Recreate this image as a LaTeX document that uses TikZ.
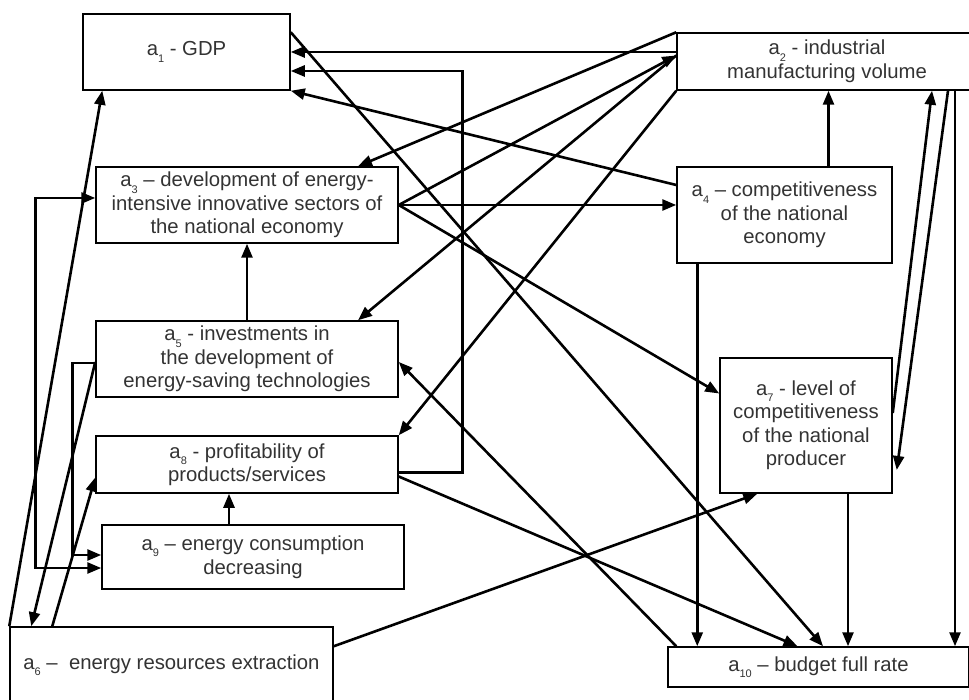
\documentclass[tikz,border=0pt]{standalone}
\usepackage{fontspec}
\setmainfont{Liberation Sans}
\usetikzlibrary{arrows.meta,calc}
\newcommand{\ai}[1]{a\raisebox{-0.6ex}{\fontsize{11}{11}\selectfont #1}}

\begin{document}
\begin{tikzpicture}[x=1pt, y=-1pt,
  every node/.style={draw, rectangle, line width=1.5pt, align=center, inner sep=2pt,
    font=\fontsize{20.3}{23.5}\selectfont, text=black!80},
  arr/.style={line width=2.6pt, -{Triangle[length=14pt,width=11pt]}},
  biarr/.style={line width=2.6pt, {Triangle[length=14pt,width=11pt]}-{Triangle[length=14pt,width=11pt]}}]
  \clip (0,0) rectangle (969,700);
  % factors
  \node[minimum width=207, minimum height=76] (a1) at (186.5,52) {\ai{1} - GDP};
  \node[minimum width=300, minimum height=57] (a2) at (827,61.5) {\ai{2} - industrial\\manufacturing volume};
  \node[minimum width=302, minimum height=76] (a3) at (247,205) {\ai{3} -- development of energy-\\intensive innovative sectors of\\the national economy};
  \node[minimum width=215, minimum height=96] (a4) at (784.5,215) {\ai{4} -- competitiveness\\of the national\\economy};
  \node[minimum width=302, minimum height=76] (a5) at (247,359) {\ai{5} - investments in\\the development of\\energy-saving technologies};
  \node[minimum width=323, minimum height=76] (a6) at (171.5,665) {\ai{6} --\ \ energy resources extraction};
  \node[minimum width=172, minimum height=135] (a7) at (806,425.5) {\ai{7} - level of\\competitiveness\\of the national\\producer};
  \node[minimum width=302, minimum height=57] (a8) at (247,464.5) {\ai{8} - profitability of\\products/services};
  \node[minimum width=302, minimum height=64] (a9) at (253,557) {\ai{9} -- energy consumption\\decreasing};
  \node[minimum width=301, minimum height=40] (a10) at (818.5,667) {\ai{10} -- budget full rate};
  % links into a1
  \draw[arr] (a1.east -| a2.west) -- (a1.east);
  \draw[arr] ($(a8.east)+(0,8)$) -- ++(64,0) |- ($(a1.east)+(0,19)$);
  \draw[arr] ($(a4.west)+(0,-30)$) -- (a1.south east);
  \draw[arr] (a6.north west) -- ($(a1.south west)+(20,0)$);
  % links from a1, a2, a3
  \draw[arr] ($(a1.north east)+(0,19)$) -- ($(a10.north)+(4.5,0)$);
  \draw[arr] (a2.north west) -- ($(a3.north)+(111,0)$);
  \draw[arr] (a3.east) -- ($(a2.west)+(0,-6)$);
  \draw[arr] ($(a2.west)+(0,-6)$) -- ($(a5.north)+(111,0)$);
  \draw[arr] (a2.south west) -- (a8.north east);
  \draw[arr] (a3.east) -- (a3.east -| a4.west);
  \draw[arr] (a3.east) -- ($(a7.west)+(0,-32)$);
  % right side
  \draw[arr] ($(a4.north)+(44,0)$) coordinate (t1) -- (t1 |- a2.south);
  \draw[arr] ($(a4.south west)+(21,0)$) coordinate (t2) -- (t2 |- a10.north);
  \draw[arr] ($(a7.south)+(42,0)$) coordinate (t3) -- (t3 |- a10.north);
  \draw[arr] ($(a2.south)+(128,0)$) coordinate (t4) -- (t4 |- a10.north);
  \draw[arr] ($(a7.east)+(0,-12.5)$) -- ($(a2.south)+(105,0)$);
  \draw[arr] ($(a2.south)+(121,0)$) -- ($(a7.east)+(4,44.5)$);
  \draw[arr] ($(a8.east)+(0,12)$) -- ($(a10.north)+(-21,0)$);
  \draw[arr] ($(a10.north west)+(9,0)$) -- ($(a5.east)+(0,3)$);
  \draw[arr] ($(a6.north east)+(0,20)$) -- ($(a7.south west)+(38,0)$);
  % left side
  \draw[arr] (a5.north) -- (a3.south);
  \draw[arr] ($(a9.north)+(-24,0)$) coordinate (t5) -- (t5 |- a8.south);
  \draw[arr] ($(a5.west)+(0,3)$) -- ($(a6.north west)+(22,0)$);
  \draw[arr] ($(a6.north west)+(43,0)$) -- ($(a8.west)+(0,13)$);
  \draw[arr] ($(a5.west)+(0,4)$) -- ++(-23,0) |- ($(a9.west)+(0,-2)$);
  \draw[biarr] ($(a3.west)+(0,-7)$) -- ++(-60,0) |- ($(a9.west)+(0,11)$);
\end{tikzpicture}
\end{document}
